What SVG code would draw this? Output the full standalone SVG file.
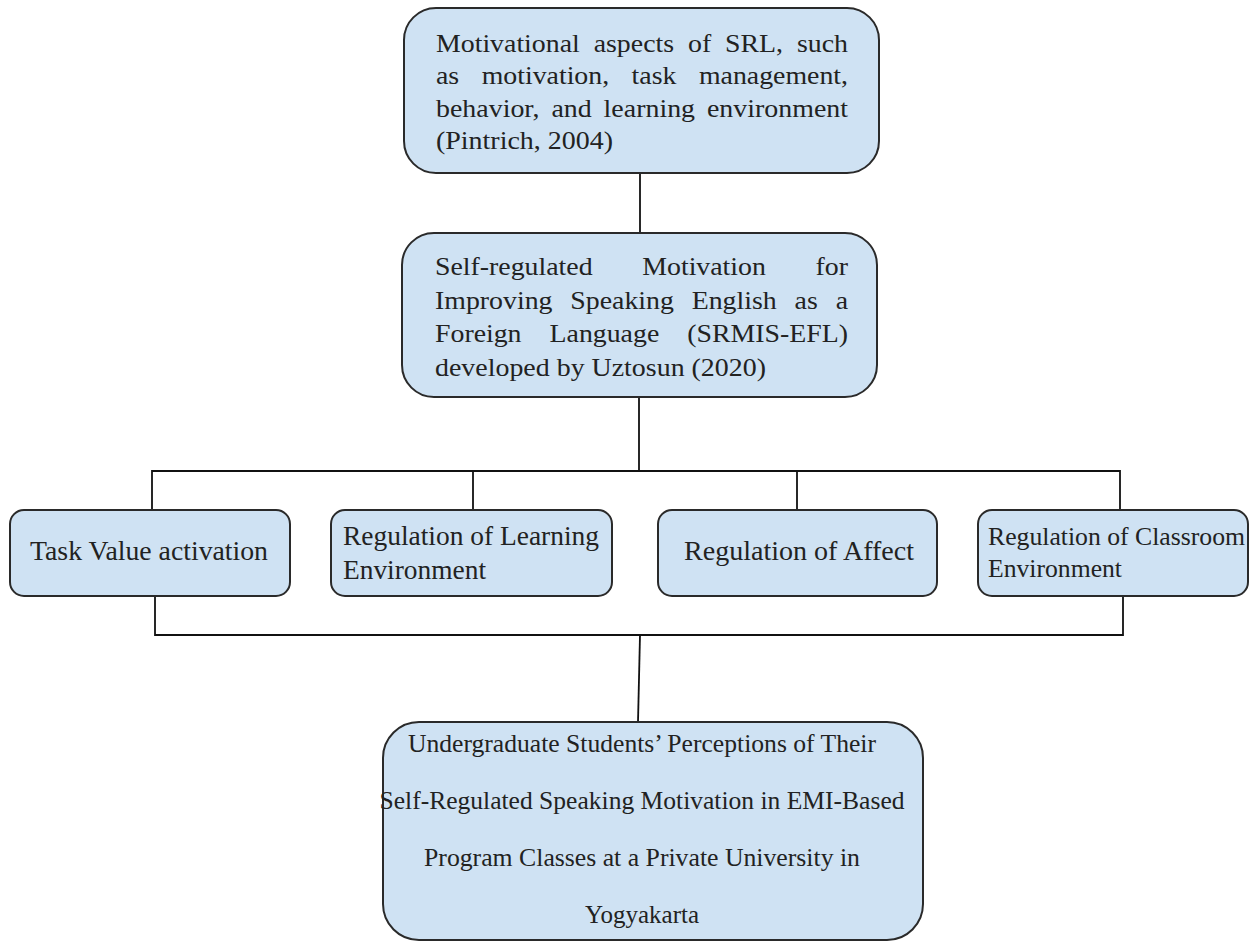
<svg xmlns="http://www.w3.org/2000/svg" width="1250" height="943" viewBox="0 0 1250 943">
<style>
.box{fill:#cfe2f3;stroke:#2a2a2a;stroke-width:2}
.t{font-family:"Liberation Serif","Times New Roman",serif;fill:#222}
.f26{font-size:26px}
.f27{font-size:27px}
.f25{font-size:25.7px}
.c{fill:none;stroke:#111;stroke-width:1.8}
</style>
<rect width="1250" height="943" fill="#ffffff"/>
<g id="connectors">
<line class="c" x1="640" y1="173" x2="640" y2="233"/>
<line class="c" x1="639" y1="397" x2="639" y2="471"/>
<polyline class="c" points="152,510 152,471 1120,471 1120,510"/>
<line class="c" x1="473" y1="471" x2="473" y2="510"/>
<line class="c" x1="797" y1="471" x2="797" y2="510"/>
<polyline class="c" points="155,596 155,635 1123,635 1123,596"/>
<line class="c" x1="640" y1="635" x2="638" y2="722"/>
</g>
<g id="node-srl">
<rect class="box" x="404" y="8" width="475" height="165" rx="32"/>
<text class="t f26" x="436" y="52" textLength="412" lengthAdjust="spacingAndGlyphs" style="word-spacing:6.5px">Motivational aspects of SRL, such</text>
<text class="t f26" x="436" y="84" textLength="412" lengthAdjust="spacingAndGlyphs" style="word-spacing:14.5px">as motivation, task management,</text>
<text class="t f26" x="436" y="117" textLength="412" lengthAdjust="spacingAndGlyphs" style="word-spacing:4.6px">behavior, and learning environment</text>
<text class="t f26" x="436" y="149" textLength="177" lengthAdjust="spacingAndGlyphs">(Pintrich, 2004)</text>
</g>
<g id="node-srmis">
<rect class="box" x="402" y="233" width="475" height="164" rx="32"/>
<text class="t f26" x="435" y="275" textLength="413" lengthAdjust="spacingAndGlyphs" style="word-spacing:39.9px">Self-regulated Motivation for</text>
<text class="t f26" x="435" y="309" textLength="413" lengthAdjust="spacingAndGlyphs" style="word-spacing:10.2px">Improving Speaking English as a</text>
<text class="t f26" x="435" y="342" textLength="413" lengthAdjust="spacingAndGlyphs" style="word-spacing:19.7px">Foreign Language (SRMIS-EFL)</text>
<text class="t f26" x="435" y="376" textLength="331" lengthAdjust="spacingAndGlyphs">developed by Uztosun (2020)</text>
</g>
<g id="node-task-value">
<rect class="box" x="10" y="510" width="280" height="86" rx="14"/>
<text class="t f27" x="30" y="560" textLength="238" lengthAdjust="spacingAndGlyphs">Task Value activation</text>
</g>
<g id="node-learning-env">
<rect class="box" x="331" y="510" width="281" height="86" rx="14"/>
<text class="t f27" x="343" y="545" textLength="256" lengthAdjust="spacingAndGlyphs">Regulation of Learning</text>
<text class="t f27" x="343" y="579" textLength="143" lengthAdjust="spacingAndGlyphs">Environment</text>
</g>
<g id="node-affect">
<rect class="box" x="658" y="510" width="279" height="86" rx="14"/>
<text class="t f27" x="684" y="560" textLength="230" lengthAdjust="spacingAndGlyphs">Regulation of Affect</text>
</g>
<g id="node-classroom-env">
<rect class="box" x="978" y="510" width="270" height="86" rx="14"/>
<text class="t f25" x="988" y="545" textLength="257" lengthAdjust="spacingAndGlyphs">Regulation of Classroom</text>
<text class="t f25" x="988" y="577" textLength="134" lengthAdjust="spacingAndGlyphs">Environment</text>
</g>
<g id="node-perceptions">
<rect class="box" x="383" y="722" width="540" height="218" rx="36"/>
<text class="t f26" x="642" y="752" text-anchor="middle" textLength="468" lengthAdjust="spacingAndGlyphs">Undergraduate Students’ Perceptions of Their</text>
<text class="t f26" x="642" y="809" text-anchor="middle" textLength="525" lengthAdjust="spacingAndGlyphs">Self-Regulated Speaking Motivation in EMI-Based</text>
<text class="t f26" x="642" y="866" text-anchor="middle" textLength="436" lengthAdjust="spacingAndGlyphs">Program Classes at a Private University in</text>
<text class="t f26" x="642" y="923" text-anchor="middle" textLength="114" lengthAdjust="spacingAndGlyphs">Yogyakarta</text>
</g>
</svg>
